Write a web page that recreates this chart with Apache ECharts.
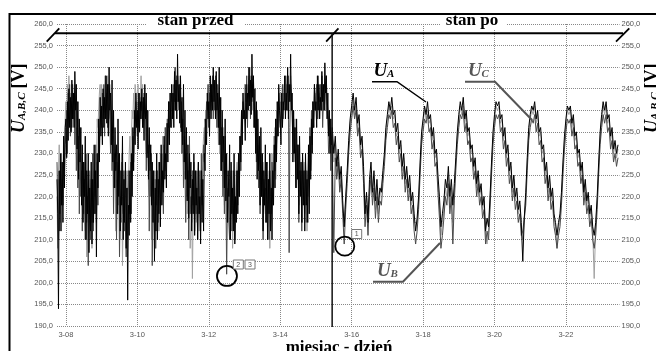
<!DOCTYPE html>
<html><head><meta charset="utf-8">
<script src="https://cdn.jsdelivr.net/npm/echarts@6/dist/echarts.min.js"></script>
<style>html,body{margin:0;padding:0;background:#fff;overflow:hidden}#c{width:656px;height:351px}</style>
</head><body><div id="c"></div>
<script>
// time in hours counted from 3-08 00:00
// "stan przed": half-hourly samples from 3-07 18:00 to 3-15 10:30
// "stan po": hourly samples from 3-15 11:00 to 3-23 11:00
const PRZED_START = -6;
const PRZED_STEP = 0.5;
const PO_START = 179;
const PO_STEP = 1;
const dayTicks = [0, 48, 96, 144, 192, 240, 288, 336];
const tickLabels = ['3-08', '3-10', '3-12', '3-14', '3-16', '3-18', '3-20', '3-22'];

// U_A (black)
const UA_przed = [
 224,216,194,226,212,230,218,228,214,234,222,236,
 238,229,242,233,245,236,243,235,247,238,244,236,249,240,246,231,242,224,238,228,236,218,232,214,228,220,234,210,226,216,230,207,222,212,228,209,224,214,232,216,226,206,230,222,238,228,243,234,
 241,232,245,236,243,238,248,237,246,234,250,240,244,232,247,228,240,222,236,226,232,216,238,220,230,212,226,218,234,210,224,214,228,208,222,196,218,211,226,214,230,220,236,226,240,232,244,236,
 240,231,244,235,242,238,245,236,243,233,246,238,244,229,240,224,236,226,232,218,228,214,226,205,222,212,230,210,224,216,228,213,232,218,226,221,234,224,230,222,237,228,242,232,244,236,246,238,
 244,236,249,240,247,238,253,242,246,237,248,235,243,232,246,228,240,224,236,219,232,215,230,222,228,212,224,216,230,211,226,218,222,210,228,216,220,209,226,214,224,212,230,226,238,232,244,238,
 242,234,248,238,246,240,250,242,247,238,249,240,244,236,250,232,243,226,240,228,234,222,238,219,230,214,226,220,232,210,228,216,222,212,230,209,220,214,226,216,230,220,234,228,240,232,244,238,
 240,233,246,238,244,240,250,241,247,239,253,243,248,236,245,230,242,224,238,226,234,218,236,220,230,212,226,218,232,214,228,210,224,216,230,212,222,210,226,218,232,222,238,228,242,234,246,240,
 238,232,244,236,242,240,248,238,244,240,250,238,246,242,253,240,244,228,240,230,236,222,238,224,232,216,234,220,228,214,230,218,226,212,230,218,224,214,232,216,234,224,238,230,242,236,246,240,
 242,236,248,240,246,238,243,240,249,242,246,240,251,244,248,238,244,234,240,230,238,232
];
const UA_po = [
 236,230,234,227,231,224,227,219,213,220,226,233,238,
 241,244,240,243,237,239,232,234,227,216,221,214,224,228,221,226,219,224,218,222,221,226,230,236,
 239,242,240,243,239,240,235,237,231,233,227,230,224,227,222,225,219,221,216,212,215,220,228,235,
 238,241,239,242,238,239,234,236,230,231,225,220,213,216,219,224,222,227,220,224,218,223,229,235,
 239,242,240,243,238,240,235,236,231,232,227,229,223,226,221,223,218,220,212,215,213,220,228,235,
 239,242,241,242,238,239,234,236,230,232,226,228,222,225,220,222,217,219,214,205,215,221,229,236,
 239,241,240,242,238,240,235,236,231,232,226,228,222,225,220,222,216,214,211,214,216,221,228,234,
 238,241,240,241,237,239,234,235,230,231,226,228,221,224,219,221,216,218,213,211,214,220,228,235,
 239,242,240,242,238,239,234,236,231,233,230,232
];
// U_B (dark grey)
const UB_przed = [
 228,218,210,224,216,228,212,224,218,230,226,232,
 234,240,230,244,238,246,234,242,236,246,238,244,232,240,226,236,222,234,216,230,220,226,212,228,216,224,210,230,214,220,204,226,218,210,224,214,230,212,226,220,232,214,228,218,234,230,238,240,
 236,244,238,246,234,248,240,244,236,246,242,238,230,240,226,234,216,230,222,228,210,224,218,230,206,220,214,228,220,216,226,212,214,206,222,210,226,216,224,228,216,230,234,228,236,240,242,238,
 234,242,236,244,238,243,240,242,236,244,240,238,226,236,230,232,212,226,220,230,204,218,224,212,208,224,218,226,214,228,222,218,220,230,224,216,232,226,236,228,232,238,236,242,240,238,236,244,
 238,246,242,250,240,248,246,244,240,246,236,242,230,238,222,234,226,214,230,220,226,210,234,216,220,214,226,218,228,212,222,216,226,210,220,216,226,212,230,218,226,232,228,238,236,242,240,246,
 236,244,240,246,242,248,238,246,240,248,244,236,246,240,232,240,226,236,232,220,228,216,234,222,202,218,222,214,210,224,226,212,218,226,224,210,214,222,226,218,230,220,234,226,240,236,242,240,
 238,244,242,248,236,246,244,250,238,248,242,246,244,236,240,238,228,240,234,222,226,216,230,220,226,210,224,218,222,214,228,216,224,210,226,220,216,228,224,222,234,226,238,230,240,234,244,238,
 236,242,240,246,238,244,242,248,240,246,244,248,207,236,246,244,240,232,230,236,236,226,222,232,230,214,226,222,226,212,230,222,222,218,228,214,226,220,230,224,236,226,240,232,242,236,246,240,
 240,246,238,248,244,242,246,240,248,236,242,244,240,246,248,240,238,230,232,236,226,234
];
const UB_po = [
 231,207,229,224,228,221,224,216,209,217,223,230,235,
 238,241,238,240,234,236,229,231,223,213,218,211,220,225,218,222,215,220,214,219,218,223,227,233,
 236,239,238,240,236,237,232,234,228,230,224,227,221,224,219,222,216,218,212,209,212,217,225,232,
 235,238,237,239,235,236,231,233,227,228,221,215,208,211,215,220,218,223,216,220,209,219,226,232,
 236,239,238,240,235,237,232,233,228,229,224,226,220,223,218,220,215,217,209,212,210,217,225,232,
 236,239,238,239,235,236,231,233,227,229,223,225,219,222,217,219,214,216,211,212,212,218,226,233,
 236,238,237,239,235,237,232,233,228,229,223,225,219,222,217,219,213,211,208,211,213,218,225,231,
 235,238,237,238,234,236,231,232,227,228,223,225,218,221,216,218,213,215,210,208,211,217,225,232,
 236,239,237,239,235,236,231,233,228,230,227,229
];
// U_C (light grey)
const UC_przed = [
 220,208,226,232,222,214,230,218,226,234,228,238,
 242,236,246,240,248,242,244,238,246,240,242,244,236,246,240,232,242,236,228,230,236,222,220,226,226,216,212,222,206,218,214,224,216,222,226,208,220,230,224,216,230,224,238,236,240,244,246,240,
 246,240,244,238,242,248,244,238,248,242,238,246,242,232,236,230,224,232,230,212,224,228,216,222,228,210,218,230,204,216,212,224,212,222,226,218,222,230,234,226,234,240,238,244,240,246,244,240,
 240,246,238,244,242,248,240,246,236,242,244,234,230,238,238,222,220,232,230,210,222,226,214,218,226,208,220,222,226,212,220,230,218,226,234,222,226,236,230,234,238,232,242,238,240,244,242,246,
 246,240,250,244,246,248,242,246,248,240,244,236,230,238,236,226,224,230,228,216,218,226,222,208,212,220,201,216,220,226,226,214,216,226,228,212,218,224,222,228,230,234,236,232,240,238,242,244,
 246,240,244,246,240,244,248,242,246,240,242,236,240,232,238,230,234,226,228,222,236,218,220,228,228,216,214,222,224,214,218,226,208,218,222,226,218,226,228,222,220,230,232,226,236,240,242,238,
 246,240,242,244,244,246,248,244,242,246,246,240,248,242,240,236,236,230,232,226,226,230,230,222,220,228,224,218,216,224,228,218,220,226,208,220,222,230,218,226,230,236,224,232,236,242,242,238,
 244,238,240,242,242,246,246,240,244,248,240,244,246,242,248,244,242,236,234,228,238,232,224,230,232,224,218,226,224,222,214,222,228,216,220,226,212,222,226,230,232,226,228,234,238,240,242,244,
 244,240,246,242,238,244,244,240,248,242,246,240,242,246,246,242,240,236,234,238,238,230
];
const UC_po = [
 234,228,232,225,229,222,225,217,214,219,225,232,237,
 240,242,239,241,235,238,231,233,225,218,220,216,222,226,220,224,217,222,216,220,220,225,229,235,
 238,241,239,241,238,239,234,235,230,232,226,229,223,226,221,223,218,220,214,214,214,219,227,234,
 237,240,238,240,237,238,233,235,229,230,223,218,211,214,217,222,220,225,218,222,214,221,228,234,
 238,241,239,241,237,239,234,235,230,231,226,228,222,225,220,222,217,219,211,209,212,219,227,234,
 238,241,240,241,237,238,233,235,229,231,225,227,221,224,219,221,216,218,213,210,214,220,228,235,
 238,240,239,241,237,239,234,235,230,231,225,227,221,224,219,221,215,213,208,213,215,220,227,233,
 237,240,239,240,236,238,233,234,229,230,225,227,220,223,218,220,215,217,212,201,213,219,227,234,
 238,241,239,241,237,238,233,235,230,232,229,231
];

const SERIF = '"Liberation Serif","Times New Roman",serif';
const SANS = '"Liberation Sans",Arial,sans-serif';
const toXY = (przed, po) => przed.map((v, i) => [PRZED_START + i * PRZED_STEP, v])
  .concat(po.map((v, j) => [PO_START + j * PO_STEP, v]));
const fmtY = v => v.toFixed(1).replace('.', ',');

const chart = echarts.init(document.getElementById('c'), null, {renderer: 'canvas'});
const yCommon = {
  type: 'value', min: 190, max: 260, interval: 5,
  axisLine: {show: false}, axisTick: {show: false},
  axisLabel: {formatter: fmtY, fontSize: 7.5, color: '#555', fontFamily: SANS}
};
chart.setOption({
  animation: false,
  backgroundColor: '#fff',
  grid: {left: 57, right: 36.5, top: 24, bottom: 25, containLabel: false},
  xAxis: {
    type: 'value', min: PRZED_START, max: 372,
    axisLine: {show: false},
    axisTick: {show: false, customValues: dayTicks},
    axisLabel: {customValues: dayTicks, formatter: v => tickLabels[dayTicks.indexOf(v)] || '',
      fontSize: 7.5, color: '#555', margin: 5, fontFamily: SANS},
    splitLine: {show: true, lineStyle: {type: 'dotted', color: '#888', width: 1}}
  },
  yAxis: [
    Object.assign({}, yCommon, {position: 'left', axisLabel: Object.assign({}, yCommon.axisLabel, {margin: 4}),
      splitLine: {show: true, lineStyle: {type: 'dotted', color: '#888', width: 1}}}),
    Object.assign({}, yCommon, {position: 'right', axisLabel: Object.assign({}, yCommon.axisLabel, {margin: 2}),
      splitLine: {show: false}})
  ],
  series: [
    {name: 'UC', type: 'line', data: toXY(UC_przed, UC_po), showSymbol: false, symbol: 'none', lineStyle: {color: '#a2a2a2', width: 1}, z: 2},
    {name: 'UB', type: 'line', data: toXY(UB_przed, UB_po), showSymbol: false, symbol: 'none', lineStyle: {color: '#4a4a4a', width: 1}, z: 3},
    {name: 'UA', type: 'line', data: toXY(UA_przed, UA_po), showSymbol: false, symbol: 'none', lineStyle: {color: '#000', width: 1}, z: 4}
  ]
});

// annotation anchors in data coordinates [hour, volts]
const P = (h, v) => chart.convertToPixel({gridIndex: 0}, [h, v]);
const divider = P(178.9, 190)[0];
const circA = P(108.2, 201.6);
const circB = P(187.4, 208.5);

function uLabel(x, baseY, sub, color) {
  return [
    {type: 'text', x: x, y: baseY - 6.5, z: 20, style: {text: 'U', font: 'italic bold 19px ' + SERIF, fill: color, textAlign: 'left', textVerticalAlign: 'middle'}},
    {type: 'text', x: x + 13.5, y: baseY - 3.2, z: 20, style: {text: sub, font: 'italic bold 11px ' + SERIF, fill: color, textAlign: 'left', textVerticalAlign: 'middle'}}
  ];
}
function yTitle(cx) {
  return {type: 'group', x: cx, y: 97.5, rotation: Math.PI / 2, z: 20, children: [
    {type: 'text', x: -35.5, y: 0, style: {text: 'U', font: 'italic bold 18px ' + SERIF, fill: '#000', textAlign: 'left', textVerticalAlign: 'middle'}},
    {type: 'text', x: -22.5, y: 3.5, style: {text: 'A,B,C', font: 'italic bold 11px ' + SERIF, fill: '#000', textAlign: 'left', textVerticalAlign: 'middle'}},
    {type: 'text', x: 9, y: 0, style: {text: '[V]', font: 'bold 18px ' + SERIF, fill: '#000', textAlign: 'left', textVerticalAlign: 'middle'}}
  ]};
}
function box(x, y, t) {
  return [
    {type: 'rect', z: 20, shape: {x: x, y: y, width: 10, height: 9}, style: {fill: '#fff', stroke: '#777', lineWidth: 1}},
    {type: 'text', z: 21, x: x + 5, y: y + 4.8, style: {text: t, font: '7px ' + SANS, fill: '#555', textAlign: 'center', textVerticalAlign: 'middle'}}
  ];
}
const g = [];
g.push({type: 'rect', z: 30, shape: {x: 9.5, y: 14, width: 700, height: 400}, style: {fill: 'none', stroke: '#000', lineWidth: 2}});
g.push({type: 'rect', z: 10, shape: {x: 146, y: 16, width: 99, height: 14}, style: {fill: '#fff'}});
g.push({type: 'rect', z: 10, shape: {x: 440, y: 16, width: 67, height: 14}, style: {fill: '#fff'}});
g.push({type: 'text', z: 11, x: 195.5, y: 20.7, style: {text: 'stan przed', font: 'bold 17px ' + SERIF, fill: '#000', textAlign: 'center', textVerticalAlign: 'middle'}});
g.push({type: 'text', z: 11, x: 472, y: 20.7, style: {text: 'stan po', font: 'bold 17px ' + SERIF, fill: '#000', textAlign: 'center', textVerticalAlign: 'middle'}});
g.push({type: 'text', z: 11, x: 339, y: 347.2, style: {text: 'miesiąc - dzień', font: 'bold 17px ' + SERIF, fill: '#000', textAlign: 'center', textVerticalAlign: 'middle'}});
g.push(yTitle(19));
g.push(yTitle(652));
// top bracket line with slashes and divider
g.push({type: 'line', z: 15, shape: {x1: 55, y1: 33.3, x2: 623, y2: 33.3}, style: {stroke: '#000', lineWidth: 2}});
g.push({type: 'line', z: 15, shape: {x1: 46.7, y1: 41.7, x2: 59.3, y2: 28.3}, style: {stroke: '#000', lineWidth: 1.8}});
g.push({type: 'line', z: 15, shape: {x1: divider - 6, y1: 41.7, x2: divider + 6.3, y2: 28.3}, style: {stroke: '#000', lineWidth: 1.8}});
g.push({type: 'line', z: 15, shape: {x1: 616, y1: 41.7, x2: 629.3, y2: 28.3}, style: {stroke: '#000', lineWidth: 1.8}});
g.push({type: 'line', z: 15, shape: {x1: divider, y1: 33, x2: divider, y2: 327}, style: {stroke: '#111', lineWidth: 1.5}});
// U labels and leader lines
g.push(...uLabel(373.5, 77.5, 'A', '#000'));
g.push({type: 'polyline', z: 15, shape: {points: [[372, 81.7], [397, 81.7], [426, 102]]}, style: {stroke: '#000', lineWidth: 1.5, fill: 'none'}});
g.push(...uLabel(468, 77.5, 'C', '#555'));
g.push({type: 'polyline', z: 15, shape: {points: [[465, 81.7], [495, 81.7], [532, 120]]}, style: {stroke: '#555', lineWidth: 2, fill: 'none'}});
g.push(...uLabel(377, 277.5, 'B', '#555'));
g.push({type: 'polyline', z: 15, shape: {points: [[373, 281.7], [403, 281.7], [440, 243]]}, style: {stroke: '#555', lineWidth: 2, fill: 'none'}});
// circles and markers
g.push({type: 'circle', z: 15, shape: {cx: circA[0], cy: circA[1], r: 10}, style: {fill: 'none', stroke: '#000', lineWidth: 1.8}});
g.push({type: 'circle', z: 15, shape: {cx: circB[0], cy: circB[1], r: 9.5}, style: {fill: 'none', stroke: '#000', lineWidth: 1.8}});
g.push(...box(233.3, 260, '2'));
g.push(...box(245, 260, '3'));
g.push(...box(351.7, 229.5, '1'));
chart.setOption({graphic: g});
</script>
</body></html>
